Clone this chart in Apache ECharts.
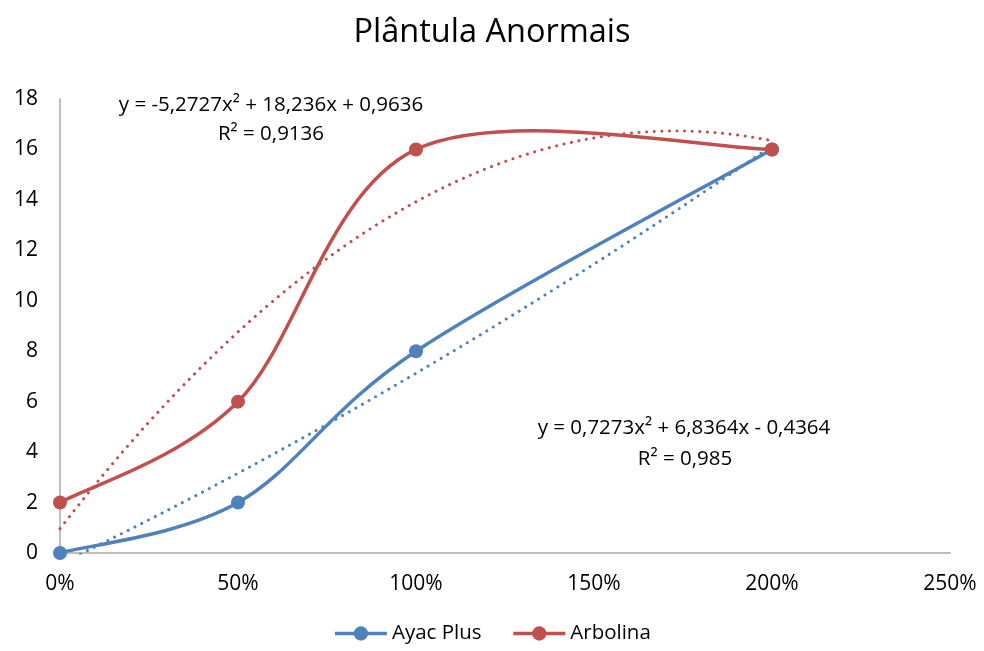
<!DOCTYPE html>
<html>
<head>
<meta charset="utf-8">
<script src="https://cdn.jsdelivr.net/npm/echarts@6/dist/echarts.min.js"></script>
<style>
  html, body { margin: 0; padding: 0; background: #fff; }
  #chart { width: 984px; height: 651px; }
</style>
</head>
<body>
<div id="chart"></div>
<script>
var doses = [0, 0.5, 1, 2]; // 0%, 50%, 100%, 200%
var ayacPlus = [0, 2, 8, 16];
var arbolina = [2, 6, 16, 16];

// coeficientes das linhas de tendência (polinomial grau 2)
var ayacTrend = [0.7273, 6.8364, -0.4364];
var arbolinaTrend = [-5.2727, 18.236, 0.9636];

var ayacLabel = ["y = 0,7273x² + 6,8364x - 0,4364", "R² = 0,985"];
var arbolinaLabel = ["y = -5,2727x² + 18,236x + 0,9636", "R² = 0,9136"];

var blue = "#4F81BD";
var red = "#C0504D";
var font = "Open Sans";

var chart = echarts.init(document.getElementById("chart"));

//pares [x, y]
function toPairs (xs, ys) {
  var arr = [];
  for (var i = 0; i < xs.length; i++) {
    arr.push([xs[i], ys[i]]);
  }
  return arr;
}

//curva da tendência a partir dos coeficientes
function trendPoints (c) {
  var arr = [];
  for (var i = 0; i <= 100; i++) {
    var x = i * 0.02;
    arr.push([x, c[0] * x * x + c[1] * x + c[2]]);
  }
  return arr;
}

//linha suavizada estilo Excel (bezier com pontos de controle de Catmull-Rom)
function smoothSeries (name, pairs, color) {
  return {
    name: name,
    type: "custom",
    data: [0],
    z: 3,
    silent: true,
    renderItem: function (params, api) {
      var pts = [];
      for (var i = 0; i < pairs.length; i++) {
        pts.push(api.coord(pairs[i]));
      }
      var d = "M" + pts[0][0] + " " + pts[0][1];
      for (var i = 0; i < pts.length - 1; i++) {
        var p0 = pts[i - 1] || pts[i];
        var p1 = pts[i];
        var p2 = pts[i + 1];
        var p3 = pts[i + 2] || pts[i + 1];
        var c1x = p1[0] + (p2[0] - p0[0]) / 6;
        var c1y = p1[1] + (p2[1] - p0[1]) / 6;
        var c2x = p2[0] - (p3[0] - p1[0]) / 6;
        var c2y = p2[1] - (p3[1] - p1[1]) / 6;
        d += " C" + c1x + " " + c1y + " " + c2x + " " + c2y + " " + p2[0] + " " + p2[1];
      }
      return {
        type: "path",
        shape: { pathData: d },
        style: { fill: null, stroke: color, lineWidth: 3.5 }
      };
    }
  };
}

var labelFont = "20.5px 'Open Sans'";

var option = {
  animation: false,
  textStyle: { fontFamily: font },
  title: {
    text: "Plântula Anormais",
    left: "center",
    top: 11,
    textStyle: { fontFamily: font, fontSize: 32.5, fontWeight: "normal", color: "#000" }
  },
  legend: {
    bottom: 2,
    left: "center",
    itemWidth: 52,
    itemHeight: 18,
    itemGap: 30,
    lineStyle: { opacity: 1, width: 3.5 },
    textStyle: { fontFamily: font, fontSize: 20.5, color: "#000" },
    data: ["Ayac Plus", "Arbolina"]
  },
  grid: { left: 60, right: 34, top: 99, bottom: 98 },
  xAxis: {
    type: "value",
    min: 0,
    max: 2.5,
    interval: 0.5,
    axisLine: { lineStyle: { color: "#BFBFBF", width: 2 } },
    axisTick: { show: false },
    splitLine: { show: false },
    axisLabel: {
      color: "#000",
      fontSize: 21,
      margin: 21,
      formatter: function (v) { return Math.round(v * 100) + "%"; }
    }
  },
  yAxis: {
    type: "value",
    min: 0,
    max: 18,
    interval: 2,
    axisLine: { show: true, lineStyle: { color: "#BFBFBF", width: 2 } },
    axisTick: { show: false },
    splitLine: { show: false },
    axisLabel: { color: "#000", fontSize: 21, margin: 22 }
  },
  graphic: [
    { type: "text", x: 271, y: 105, style: { text: arbolinaLabel[0], font: labelFont, fill: "#000", textAlign: "center", textVerticalAlign: "middle" } },
    { type: "text", x: 271, y: 134, style: { text: arbolinaLabel[1], font: labelFont, fill: "#000", textAlign: "center", textVerticalAlign: "middle" } },
    { type: "text", x: 684, y: 428, style: { text: ayacLabel[0], font: labelFont, fill: "#000", textAlign: "center", textVerticalAlign: "middle" } },
    { type: "text", x: 685, y: 459, style: { text: ayacLabel[1], font: labelFont, fill: "#000", textAlign: "center", textVerticalAlign: "middle" } }
  ],
  series: [
    {
      name: "Ayac Plus",
      type: "line",
      data: toPairs(doses, ayacPlus),
      symbol: "circle",
      symbolSize: 14,
      lineStyle: { color: blue, width: 3.5, opacity: 0 },
      itemStyle: { color: blue },
      z: 4
    },
    {
      name: "Arbolina",
      type: "line",
      data: toPairs(doses, arbolina),
      symbol: "circle",
      symbolSize: 14,
      lineStyle: { color: red, width: 3.5, opacity: 0 },
      itemStyle: { color: red },
      z: 4
    },
    smoothSeries("curva Ayac", toPairs(doses, ayacPlus), blue),
    smoothSeries("curva Arbolina", toPairs(doses, arbolina), red),
    {
      name: "tendência Ayac",
      type: "line",
      data: trendPoints(ayacTrend),
      showSymbol: false,
      symbol: "none",
      clip: true,
      lineStyle: { color: blue, width: 3, type: [0.1, 7.5], cap: "round" },
      z: 2
    },
    {
      name: "tendência Arbolina",
      type: "line",
      data: trendPoints(arbolinaTrend),
      showSymbol: false,
      symbol: "none",
      clip: true,
      lineStyle: { color: red, width: 3, type: [0.1, 7.5], cap: "round" },
      z: 2
    }
  ]
};

chart.setOption(option);
</script>
</body>
</html>
